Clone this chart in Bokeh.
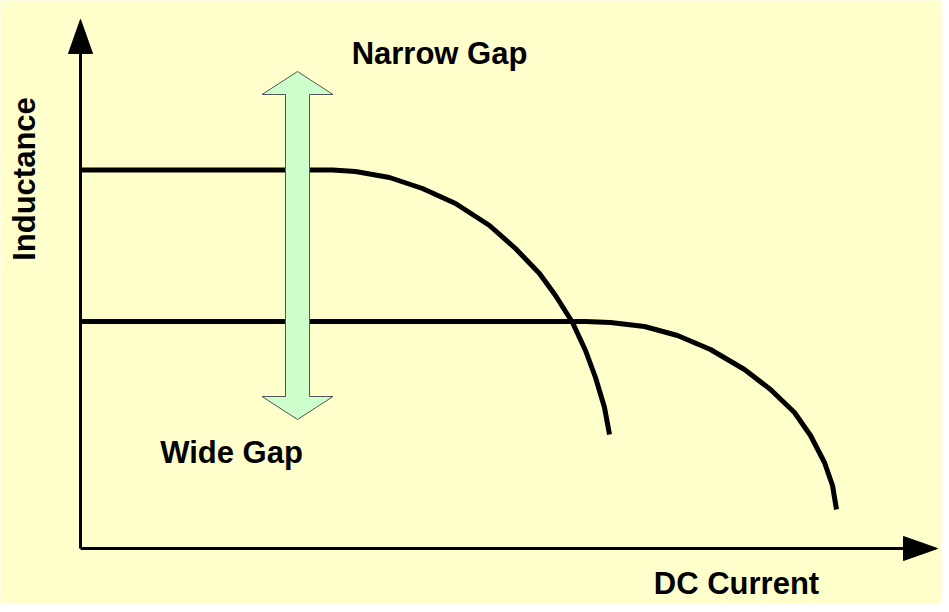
from bokeh.plotting import figure
from bokeh.models import Range1d
from bokeh.core.properties import value
from bokeh.embed import file_html
from bokeh.resources import INLINE

# ---- data (arbitrary units) ----
current_narrow = [0, 252, 275, 309, 342, 375, 409, 435, 459, 475, 492, 505, 515, 524, 529]
inductance_narrow = [378.5, 378.5, 377, 371, 360, 345, 323, 300, 275, 253, 226, 198, 171, 141, 114]

current_wide = [0, 505, 530, 564, 597, 630, 664, 690, 714, 730, 744, 752, 756]
inductance_wide = [227, 227, 226, 222, 213, 199, 179, 159, 136, 113, 86, 63, 39]

x_axis_end = 857
y_axis_end = 529

gap_arrow_x = 217
gap_arrow_top = 477
gap_arrow_bottom = 129

labels_text = ["Narrow Gap", "Wide Gap", "DC Current"]
labels_x = [359, 151, 656]
labels_y = [494.7, 96.3, -34.7]

FONT = value("Liberation Sans")
BG = "#FFFFCC"

p = figure(width=941, height=604, output_backend="svg", toolbar_location=None,
           x_range=Range1d(-80, 861), y_range=Range1d(-56, 548),
           x_axis_type=None, y_axis_type=None, min_border=0,
           background_fill_color=BG, border_fill_color=BG, outline_line_color=None)
p.grid.visible = False

# axes with arrow heads
head_len, head_half = 34, 12
p.segment(x0=[0, 0], y0=[0, 0], x1=[x_axis_end - head_len, 0], y1=[0, y_axis_end - head_len],
          line_color="black", line_width=3)
p.patches(xs=[[x_axis_end, x_axis_end - head_len, x_axis_end - head_len],
              [0, -head_half, head_half]],
          ys=[[0, head_half, -head_half],
              [y_axis_end, y_axis_end - head_len, y_axis_end - head_len]],
          fill_color="black", line_color="black", line_width=1)

# curves
p.line(current_narrow, inductance_narrow, line_color="black", line_width=5, line_join="round")
p.line(current_wide, inductance_wide, line_color="black", line_width=5, line_join="round")

# double-headed gap arrow
sh, hh, hl = 12, 35.5, 23
ax = gap_arrow_x
t, b = gap_arrow_top, gap_arrow_bottom
p.patch(x=[ax, ax + hh, ax + sh, ax + sh, ax + hh, ax, ax - hh, ax - sh, ax - sh, ax - hh],
        y=[t, t - hl, t - hl, b + hl, b + hl, b, b + hl, b + hl, t - hl, t - hl],
        fill_color="#CCFFCC", line_color="#555555", line_width=1)

# labels
p.text(x=labels_x, y=labels_y, text=labels_text, text_font=FONT, text_font_style="bold",
       text_font_size="31px", text_align="center", text_baseline="alphabetic", text_color="black")
p.text(x=[-56.3], y=[369.5], text=["Inductance"], angle=1.5707963, text_font=FONT,
       text_font_style="bold", text_font_size="31px", text_align="center",
       text_baseline="alphabetic", text_color="black")

open("out.html", "w").write(file_html(p, INLINE))
